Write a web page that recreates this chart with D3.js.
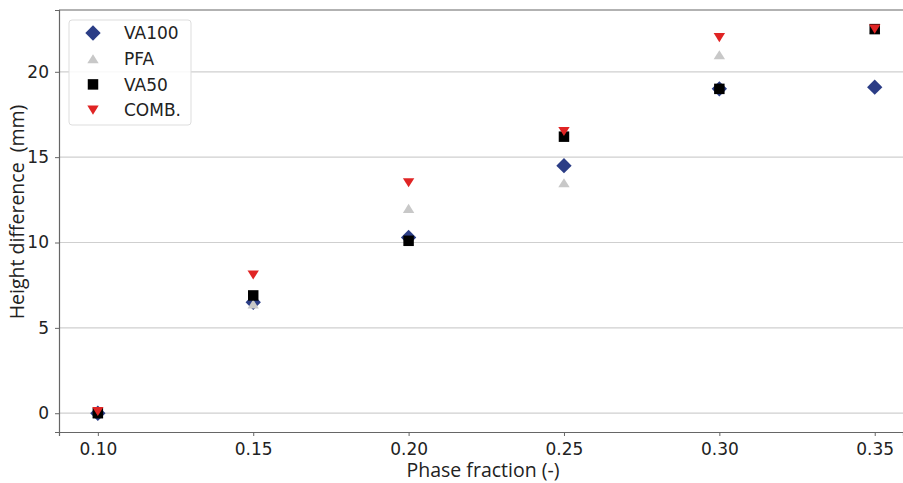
<!doctype html>
<html>
<head>
<meta charset="utf-8">
<style>
  body { margin: 0; background: #fff; }
  .tick text { font-family: "DejaVu Sans", sans-serif; font-size: 17px; fill: #222; }
  .axis-label { font-family: "Open Sans", "Noto Sans", sans-serif; font-size: 19.5px; fill: #222; }
  .legend text { font-family: "DejaVu Sans", sans-serif; font-size: 17px; fill: #222; }
</style>
</head>
<body>
<svg width="903" height="483"></svg>
<script src="https://d3js.org/d3.v7.min.js"></script>
<script>
  var phase = [0.10, 0.15, 0.20, 0.25, 0.30, 0.35];
  var va100 = [0.0, 6.5, 10.3, 14.5, 19.0, 19.1];
  var pfa = [0.0, 6.4, 12.0, 13.5, 21.0, 22.5];
  var va50 = [0.0, 6.9, 10.1, 16.2, 19.0, 22.5];
  var comb = [0.1, 8.1, 13.5, 16.5, 22.0, 22.5];
  var xTicks = [0.10, 0.15, 0.20, 0.25, 0.30, 0.35];
  var yTicks = [0, 5, 10, 15, 20];

  var series = [
    { name: "VA100", values: va100, symbol: d3.symbolDiamond2, size: 150, color: "#2b3d86" },
    { name: "PFA", values: pfa, symbol: "up", size: 90, color: "#c8c8c8" },
    { name: "VA50", values: va50, symbol: d3.symbolSquare, size: 110, color: "#000000" },
    { name: "COMB.", values: comb, symbol: "down", size: 90, color: "#e02424" }
  ];

  var svg = d3.select("svg");
  var plotL = 59, plotR = 903, plotT = 10, plotB = 432;

  var x = d3.scaleLinear().domain([0.0875, 0.3591]).range([plotL, plotR]);
  var y = d3.scaleLinear().domain([-1.1, 23.62]).range([plotB, plotT]);

  // horizontal grid
  svg.append("g")
    .selectAll("line")
    .data(yTicks)
    .enter().append("line")
    .attr("x1", plotL).attr("x2", plotR)
    .attr("y1", d => y(d)).attr("y2", d => y(d))
    .attr("stroke", "#cfcfcf").attr("stroke-width", 1.2);

  // top spine
  svg.append("line").attr("x1", plotL).attr("x2", plotR).attr("y1", plotT).attr("y2", plotT)
    .attr("stroke", "#666").attr("stroke-width", 1.2);

  var xAxis = svg.append("g")
    .attr("transform", "translate(0," + plotB + ")")
    .call(d3.axisBottom(x).tickValues(xTicks).tickFormat(d3.format(".2f")).tickSize(4).tickPadding(7));
  var yAxis = svg.append("g")
    .attr("transform", "translate(" + plotL + ",0)")
    .call(d3.axisLeft(y).tickValues(yTicks).tickFormat(d3.format("d")).tickSize(4).tickPadding(6));
  [xAxis, yAxis].forEach(function (a) {
    a.select(".domain").attr("stroke", "#666").attr("stroke-width", 1.2);
    a.selectAll(".tick line").attr("stroke", "#666");
  });

  function triangle(up, size) {
    var s = Math.sqrt(size) * 1.2;
    var h = s * 0.8;
    if (up) return "M0," + (-h / 2) + "L" + (s / 2) + "," + (h / 2) + "L" + (-s / 2) + "," + (h / 2) + "Z";
    return "M0," + (h / 2) + "L" + (s / 2) + "," + (-h / 2) + "L" + (-s / 2) + "," + (-h / 2) + "Z";
  }

  function markerPath(s) {
    if (s.symbol === "up") return triangle(true, s.size);
    if (s.symbol === "down") return triangle(false, s.size);
    return d3.symbol().type(s.symbol).size(s.size)();
  }

  series.forEach(function (s) {
    svg.append("g")
      .selectAll("path")
      .data(s.values)
      .enter().append("path")
      .attr("d", markerPath(s))
      .attr("fill", s.color)
      .attr("transform", (d, i) => "translate(" + x(phase[i]) + "," + y(d) + ")");
  });

  // legend
  var legend = svg.append("g").attr("class", "legend");
  legend.append("rect")
    .attr("x", 69).attr("y", 20).attr("width", 122).attr("height", 105).attr("rx", 3)
    .attr("fill", "rgba(255,255,255,0.85)").attr("stroke", "#dddddd");
  series.forEach(function (s, i) {
    var ly = 33 + i * 25.7;
    legend.append("path")
      .attr("d", markerPath(s))
      .attr("fill", s.color)
      .attr("transform", "translate(93," + ly + ")");
    legend.append("text")
      .attr("x", 124).attr("y", ly).attr("dy", "0.36em")
      .text(s.name);
  });

  svg.append("text")
    .attr("class", "axis-label")
    .attr("x", 483).attr("y", 477)
    .attr("text-anchor", "middle")
    .text("Phase fraction (-)");

  svg.append("text")
    .attr("class", "axis-label")
    .attr("transform", "translate(24,212) rotate(-90)")
    .attr("text-anchor", "middle")
    .text("Height difference\u00a0 (mm)");
</script>
</body>
</html>
